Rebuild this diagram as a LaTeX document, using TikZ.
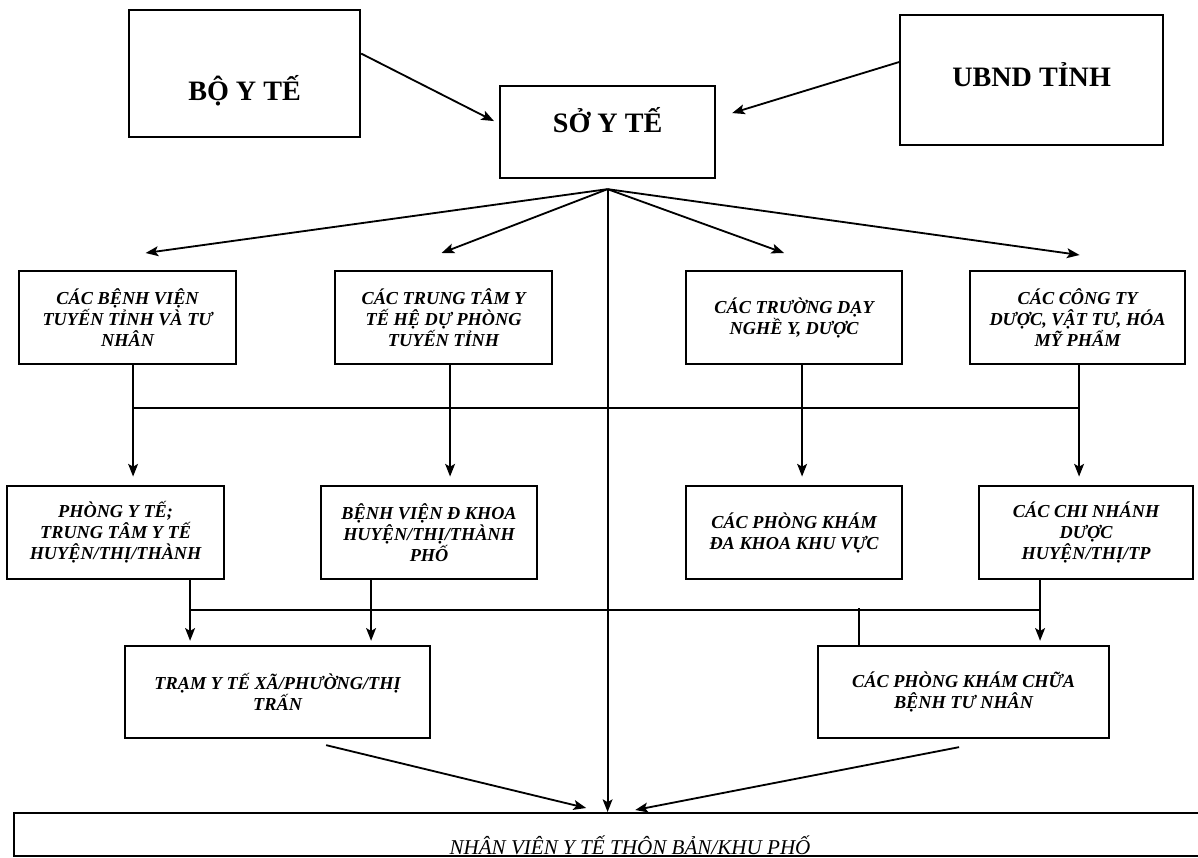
\documentclass[tikz,border=0pt]{standalone}
\usepackage{fontspec}
\setmainfont{Liberation Serif}
\usetikzlibrary{arrows.meta,calc}

\tikzset{
  topbox/.style={draw, line width=1.5pt, anchor=north west, font=\fontsize{20}{24}\selectfont\bfseries},
  unitbox/.style={draw, line width=1.5pt, anchor=north west, align=center, inner sep=2pt, minimum height=2.325cm, font=\fontsize{13}{15}\selectfont\bfseries\itshape},
  arr/.style={line width=1.3pt, -{Stealth[length=9pt,width=7pt,inset=2pt]}},
  bus/.style={line width=1.3pt}
}

\begin{document}
\begin{tikzpicture}[x=0.025cm, y=-0.025cm]
\useasboundingbox (0,0) rectangle (1198,857);

\node [topbox, minimum width=5.775cm, minimum height=3.175cm, text height=40pt, text depth=1pt] (boyte) at (128,9) {BỘ Y TẾ};
\node [topbox, minimum width=5.375cm, minimum height=2.3cm, text height=12pt, text depth=12pt] (soyte) at (499,85) {SỞ Y TẾ};
\node [topbox, minimum width=6.575cm, minimum height=3.25cm, text height=14pt, text depth=5.5pt] (ubnd) at (899,14) {UBND TỈNH};

\node [unitbox, minimum width=5.425cm] (bvtinh) at (18,270) {CÁC BỆNH VIỆN\\TUYẾN TỈNH VÀ TƯ\\NHÂN};
\node [unitbox, minimum width=5.425cm] (ttyt) at (334,270) {CÁC TRUNG TÂM Y\\TẾ HỆ DỰ PHÒNG\\TUYẾN TỈNH};
\node [unitbox, minimum width=5.4cm] (truong) at (685,270) {CÁC TRƯỜNG DẠY\\NGHỀ Y, DƯỢC};
\node [unitbox, minimum width=5.375cm] (congty) at (969,270) {CÁC CÔNG TY\\DƯỢC, VẬT TƯ, HÓA\\MỸ PHẨM};

\node [unitbox, minimum width=5.425cm] (phongyt) at (6,485) {PHÒNG Y TẾ;\\TRUNG TÂM Y TẾ\\HUYỆN/THỊ/THÀNH};
\node [unitbox, minimum width=5.4cm] (bvhuyen) at (320,485) {BỆNH VIỆN Đ KHOA\\HUYỆN/THỊ/THÀNH\\PHỐ};
\node [unitbox, minimum width=5.4cm] (pkdk) at (685,485) {CÁC PHÒNG KHÁM\\ĐA KHOA KHU VỰC};
\node [unitbox, minimum width=5.35cm] (chinhanh) at (978,485) {CÁC CHI NHÁNH\\DƯỢC\\HUYỆN/THỊ/TP};

\node [unitbox, minimum width=7.625cm, minimum height=2.3cm] (tram) at (124,645) {TRẠM Y TẾ XÃ/PHƯỜNG/THỊ\\TRẤN};
\node [unitbox, minimum width=7.275cm, minimum height=2.3cm] (pktn) at (817,645) {CÁC PHÒNG KHÁM CHỮA\\BỆNH TƯ NHÂN};

\node [draw, line width=1.5pt, anchor=north west, minimum width=30.05cm, minimum height=1.075cm] (nvyt) at (13,812) {};
\node [anchor=base, font=\fontsize{15}{18}\selectfont\itshape] (nvlabel) at (630,854) {NHÂN VIÊN Y TẾ THÔN BẢN/KHU PHỐ};

\coordinate (fan) at ($(soyte.south)+(0,10)$);
\draw [arr] ($(boyte.east)+(0,-20)$) -- ($(soyte.west)+(-5,-11)$);
\draw [arr] ($(ubnd.west)+(0,-18)$) -- ($(soyte.east)+(16,-19)$);
\draw [arr] (fan) -- ($(bvtinh.north)+(18,-17)$);
\draw [arr] (fan) -- ($(ttyt.north)+(-2,-17)$);
\draw [arr] (fan) -- ($(truong.north)+(-10,-17)$);
\draw [arr] (fan) -- ($(congty.north)+(2,-15)$);
\draw [arr] (fan) -- (fan |- nvyt.north);

\coordinate (d1) at ($(bvtinh.south)+(5.5,0)$);
\coordinate (d2) at ($(ttyt.south)+(6.5,0)$);
\coordinate (d3) at ($(truong.south)+(8,0)$);
\coordinate (d4) at ($(congty.south)+(1.5,0)$);
\draw [bus] ($(d1)+(0,43)$) -- ($(d4)+(0,43)$);
\draw [arr, shorten >=6pt] (d1) -- (d1 |- phongyt.north);
\draw [arr, shorten >=6pt] (d2) -- (d2 |- bvhuyen.north);
\draw [arr, shorten >=6pt] (d3) -- (d3 |- pkdk.north);
\draw [arr, shorten >=6pt] (d4) -- (d4 |- chinhanh.north);

\coordinate (e1) at ($(phongyt.south)+(74.5,0)$);
\coordinate (e2) at ($(bvhuyen.south)+(-58,0)$);
\coordinate (e3) at ($(chinhanh.south)+(-46,0)$);
\coordinate (e4) at ($(pktn.north)+(-104.5,-37)$);
\draw [bus] ($(e1)+(0,30)$) -- ($(e3)+(0,30)$);
\draw [arr, shorten >=3pt] (e1) -- (e1 |- tram.north);
\draw [arr, shorten >=3pt] (e2) -- (e2 |- tram.north);
\draw [arr, shorten >=3pt] (e3) -- (e3 |- pktn.north);
\draw [bus] (e4) -- (e4 |- pktn.north);

\draw [arr] ($(tram.south)+(48.5,6)$) -- ($(nvyt.north)+(-29,-4)$);
\draw [arr] ($(pktn.south)+(-4.5,8)$) -- ($(nvyt.north)+(20,-2)$);
\end{tikzpicture}
\end{document}
